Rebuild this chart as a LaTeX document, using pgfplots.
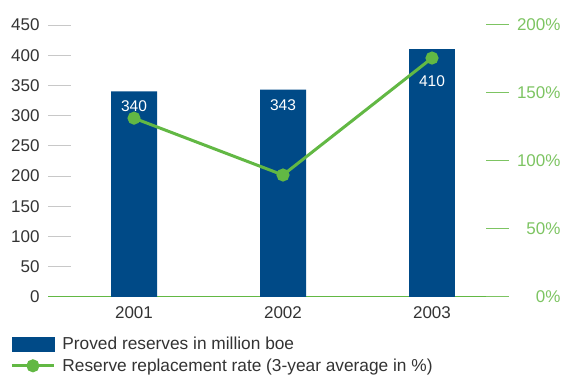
\documentclass[border=0pt]{standalone}
\usepackage{pgfplots}
\pgfplotsset{compat=1.18}
\usepackage{fontspec}
\setmainfont{Liberation Sans}
\definecolor{barblue}{RGB}{0,74,135}
\definecolor{linegreen}{RGB}{98,184,68}
\definecolor{labgreen}{RGB}{125,196,98}
\definecolor{tickgray}{RGB}{200,200,200}
\definecolor{textgray}{RGB}{51,51,51}
\begin{document}
\begin{tikzpicture}
\useasboundingbox (-134pt,-77pt) rectangle (427pt,297pt);
\begin{axis}[
  at={(0pt,0pt)}, anchor=origin,
  scale only axis, width=461pt, height=272pt,
  xmin=-0.577, xmax=2.517, ymin=0, ymax=450,
  ytick={0,50,...,450},
  xtick={0,1,2}, xticklabels={2001,2002,2003},
  axis y line*=left, axis x line*=bottom,
  x axis line style={draw=linegreen, line width=1pt, -},
  y axis line style={draw=none},
  major tick length=23pt, tick align=inside,
  ytick style={draw=tickgray, line width=1pt},
  xtick style={draw=none},
  /pgf/number format/assume math mode=true,
  ticklabel style={font=\fontsize{17}{20}\selectfont, text=textgray},
  yticklabel style={xshift=-5pt},
  xticklabel style={yshift=17pt},
  ybar, bar width=46pt,
  nodes near coords,
  every node near coord/.append style={anchor=north, text=white, font=\fontsize{15.5}{18}\selectfont},
]
\addplot[fill=barblue, draw=none, bar shift=0pt, every node near coord/.append style={yshift=-6pt}] coordinates {(0,340) (1,343)};
\addplot[fill=barblue, draw=none, bar shift=0pt, every node near coord/.append style={yshift=-23pt}] coordinates {(2,410)};
\end{axis}
\begin{axis}[
  at={(0pt,0pt)}, anchor=origin,
  scale only axis, width=461pt, height=272pt,
  xmin=-0.577, xmax=2.517, ymin=0, ymax=200,
  ytick={0,50,...,200},
  yticklabel={\pgfmathprintnumber{\tick}\%},
  axis y line*=right, axis x line=none,
  y axis line style={draw=none},
  major tick length=23pt, tick align=inside,
  ytick style={draw=labgreen, line width=1pt},
  /pgf/number format/assume math mode=true,
  ticklabel style={font=\fontsize{17}{20}\selectfont, text=labgreen},
  yticklabel style={anchor=east, xshift=55pt},
  legend style={at={(axis description cs:-0.082,-0.138)}, anchor=north west,
    draw=none, fill=none, inner sep=0pt,
    font=\fontsize{17.3}{20}\selectfont, text=textgray,
    row sep=4pt, /tikz/every odd column/.append style={column sep=5pt}},
  legend cell align=left,
]
\addlegendimage{legend image code/.code={\fill[barblue] (0pt,-7pt) rectangle (42pt,7pt);}}
\addlegendentry{Proved reserves in million boe}
\addplot[linegreen, line width=3pt, mark=*, mark size=5pt,
  legend image code/.code={\draw[linegreen, line width=3pt] (0pt,0pt)--(42pt,0pt); \fill[linegreen] (21pt,0pt) circle (5pt);}]
  coordinates {(0,131.5) (1,89.7) (2,175.7)};
\addlegendentry{Reserve replacement rate (3-year average in \%)}
\end{axis}
\end{tikzpicture}
\end{document}
